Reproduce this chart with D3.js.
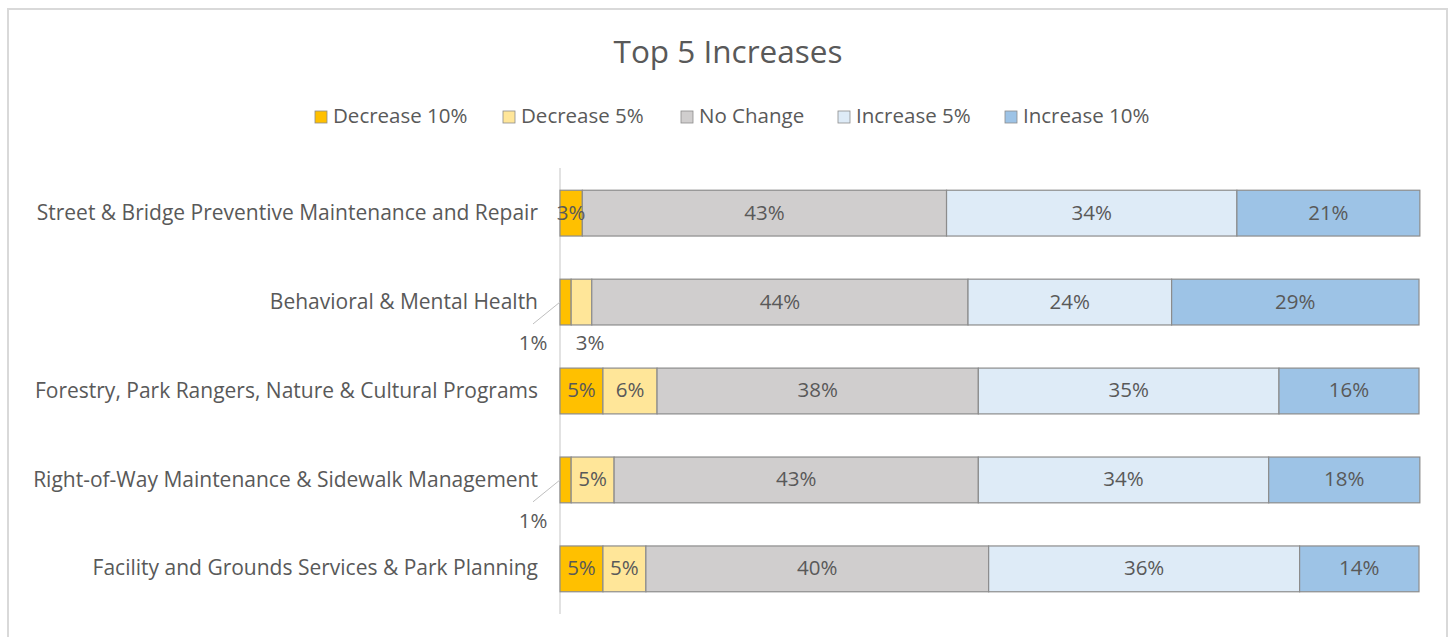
<!DOCTYPE html>
<html lang="en">
<head>
<meta charset="UTF-8">
<title>Top 5 Increases</title>
<script src="https://cdn.jsdelivr.net/npm/d3@7"></script>
<style>
  body { margin: 0; background: #fff; }
  text { font-family: "Open Sans", "Noto Sans", sans-serif; fill: #595959; }
</style>
</head>
<body>
<script>
    var categories = [
        'Street & Bridge Preventive Maintenance and Repair',
        'Behavioral & Mental Health',
        'Forestry, Park Rangers, Nature & Cultural Programs',
        'Right-of-Way Maintenance & Sidewalk Management',
        'Facility and Grounds Services & Park Planning'
    ]
    var seriesNames = ['Decrease 10%', 'Decrease 5%', 'No Change', 'Increase 5%', 'Increase 10%']
    var colors = ['#FFC000', '#FFE699', '#D0CECE', '#DEEBF7', '#9DC3E6']
    // one array per series, in category order
    var decrease10 = [2.6, 1.3, 5.0, 1.3, 5.0]
    var decrease5 = [0, 2.4, 6.3, 5.0, 5.0]
    var noChange = [42.4, 43.8, 37.4, 42.4, 39.9]
    var increase5 = [33.8, 23.7, 35.0, 33.8, 36.2]
    var increase10 = [21.3, 28.8, 16.3, 17.6, 13.9]
    var labels = [
        ['3%', '', '43%', '34%', '21%'],
        ['1%', '3%', '44%', '24%', '29%'],
        ['5%', '6%', '38%', '35%', '16%'],
        ['1%', '5%', '43%', '34%', '18%'],
        ['5%', '5%', '40%', '36%', '14%']
    ]

    var width = 1452
        height = 637
        margin = { top: 168, right: 33, bottom: 23, left: 560 }
        series = [decrease10, decrease5, noChange, increase5, increase10]
        fs = '20.5px'

    var svg = d3.select('body').append('svg')
        .attr('width', width)
        .attr('height', height)

    // chart frame
    svg.append('rect')
        .attr('x', 8).attr('y', 9)
        .attr('width', 1439).attr('height', 640)
        .attr('fill', 'none')
        .attr('stroke', '#d9d9d9')
        .attr('stroke-width', 2)

    svg.append('text')
        .attr('x', 728).attr('y', 55)
        .attr('text-anchor', 'middle')
        .attr('dominant-baseline', 'middle')
        .style('font-size', '31.5px')
        .text('Top 5 Increases')

    // legend
    var legendX = [315, 503, 681, 838, 1005]
    var legend = svg.append('g').selectAll('g')
        .data(seriesNames)
        .enter().append('g')
        .attr('transform', (d, i) => 'translate(' + legendX[i] + ',117)')
    legend.append('rect')
        .attr('x', 0).attr('y', -6)
        .attr('width', 12).attr('height', 12)
        .attr('fill', (d, i) => colors[i])
        .attr('stroke', '#8c8c8c')
        .attr('stroke-width', 0.8)
    legend.append('text')
        .attr('x', 18).attr('y', 1)
        .attr('dominant-baseline', 'middle')
        .style('font-size', fs)
        .text(d => d)

    var xScale = d3.scaleLinear()
        .domain([0, 100])
        .range([margin.left, width - margin.right])
    var yScale = d3.scaleBand()
        .domain(categories)
        .range([margin.top, height - margin.bottom])
        .paddingInner(0.485)
        .paddingOuter(0.25)

    // vertical axis line
    svg.append('line')
        .attr('x1', margin.left).attr('x2', margin.left)
        .attr('y1', margin.top).attr('y2', height - margin.bottom)
        .attr('stroke', '#d9d9d9')
        .attr('stroke-width', 1.5)

    svg.append('g').selectAll('text')
        .data(categories)
        .enter().append('text')
        .attr('x', margin.left - 22)
        .attr('y', d => yScale(d) + yScale.bandwidth() / 2 + 1)
        .attr('text-anchor', 'end')
        .attr('dominant-baseline', 'middle')
        .style('font-size', '21px')
        .text(d => d)

    var rows = categories.map(function (c, ci) {
        var acc = 0
        return series.map(function (s, si) {
            var seg = { cat: c, ci: ci, si: si, x0: acc, x1: acc + s[ci], v: s[ci], label: labels[ci][si] }
            acc += s[ci]
            return seg
        }).filter(d => d.v > 0)
    })

    var rowG = svg.append('g').selectAll('g')
        .data(rows)
        .enter().append('g')

    rowG.each(function (segs) {
        var g = d3.select(this)
        var y0 = yScale(segs[0].cat)
            bh = yScale.bandwidth()
        g.selectAll('rect')
            .data(segs)
            .enter().append('rect')
            .attr('x', d => xScale(d.x0))
            .attr('y', y0)
            .attr('width', d => xScale(d.x1) - xScale(d.x0))
            .attr('height', bh)
            .attr('fill', d => colors[d.si])
            .attr('stroke', '#8c8c8c')
            .attr('stroke-width', 1.2)

        segs.forEach(function (d) {
            var cx = (xScale(d.x0) + xScale(d.x1)) / 2
            if (d.v >= 2.5) {
                g.append('text')
                    .attr('x', cx)
                    .attr('y', y0 + bh / 2 + 1)
                    .attr('text-anchor', 'middle')
                    .attr('dominant-baseline', 'middle')
                    .style('font-size', fs)
                    .text(d.label)
            } else if (d.x0 === 0) {
                // tiny first segment: label off to the lower left with a leader line
                g.append('line')
                    .attr('x1', margin.left).attr('y1', y0 + bh / 2)
                    .attr('x2', margin.left - 27).attr('y2', y0 + bh - 1)
                    .attr('stroke', '#bfbfbf')
                    .attr('stroke-width', 1)
                g.append('text')
                    .attr('x', margin.left - 27)
                    .attr('y', y0 + bh + 20)
                    .attr('text-anchor', 'middle')
                    .attr('dominant-baseline', 'middle')
                    .style('font-size', fs)
                    .text(d.label)
            } else {
                g.append('text')
                    .attr('x', margin.left + 30)
                    .attr('y', y0 + bh + 20)
                    .attr('text-anchor', 'middle')
                    .attr('dominant-baseline', 'middle')
                    .style('font-size', fs)
                    .text(d.label)
            }
        })
    })
</script>
</body>
</html>
